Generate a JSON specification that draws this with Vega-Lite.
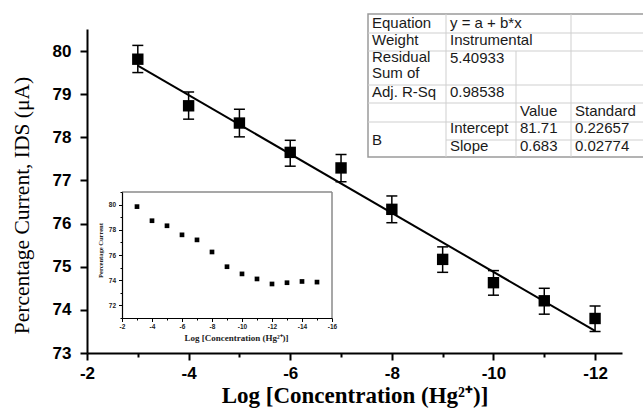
{
  "$schema": "https://vega.github.io/schema/vega-lite/v6.json",
  "width": 535,
  "height": 324,
  "autosize": "none",
  "padding": {"left": 87, "top": 29, "right": 21, "bottom": 59},
  "background": "white",
  "config": {"view": {"stroke": null}, "axis": {"grid": false}},
  "datasets": {
    "main": [
      {"x": -3, "y": 79.81, "lo": 79.50, "hi": 80.13},
      {"x": -4, "y": 78.73, "lo": 78.42, "hi": 79.05},
      {"x": -5, "y": 78.33, "lo": 78.01, "hi": 78.65},
      {"x": -6, "y": 77.65, "lo": 77.33, "hi": 77.93},
      {"x": -7, "y": 77.29, "lo": 76.97, "hi": 77.60},
      {"x": -8, "y": 76.33, "lo": 76.02, "hi": 76.64},
      {"x": -9, "y": 75.17, "lo": 74.87, "hi": 75.46},
      {"x": -10, "y": 74.63, "lo": 74.34, "hi": 74.91},
      {"x": -11, "y": 74.21, "lo": 73.90, "hi": 74.50},
      {"x": -12, "y": 73.80, "lo": 73.50, "hi": 74.09}
    ],
    "fit": [
      {"x": -3, "y": 79.661},
      {"x": -12, "y": 73.514}
    ],
    "inset": [
      {"x": -3, "y": 79.84},
      {"x": -4, "y": 78.72},
      {"x": -5, "y": 78.32},
      {"x": -6, "y": 77.6},
      {"x": -7, "y": 77.2},
      {"x": -8, "y": 76.24},
      {"x": -9, "y": 75.07},
      {"x": -10, "y": 74.5},
      {"x": -11, "y": 74.1},
      {"x": -12, "y": 73.7},
      {"x": -13, "y": 73.8},
      {"x": -14, "y": 73.9},
      {"x": -15, "y": 73.85}
    ],
    "tlines": [
      {"c": 0, "c2": 4, "r": 1, "r2": 1},
      {"c": 0, "c2": 4, "r": 2, "r2": 2},
      {"c": 0, "c2": 4, "r": 3, "r2": 3},
      {"c": 0, "c2": 4, "r": 4, "r2": 4},
      {"c": 0, "c2": 4, "r": 5, "r2": 5},
      {"c": 1, "c2": 4, "r": 6, "r2": 6},
      {"c": 1, "c2": 1, "r": 0, "r2": 7},
      {"c": 2, "c2": 2, "r": 2, "r2": 7},
      {"c": 3, "c2": 3, "r": 0, "r2": 7}
    ],
    "tcells": [
      {"c": 0, "r": 0.45, "t": "Equation"},
      {"c": 1, "r": 0.45, "t": "y = a + b*x"},
      {"c": 0, "r": 1.4, "t": "Weight"},
      {"c": 1, "r": 1.4, "t": "Instrumental"},
      {"c": 0, "r": 2.18, "t": "Residual\nSum of"},
      {"c": 1, "r": 2.2, "t": "5.40933"},
      {"c": 0, "r": 3.4, "t": "Adj. R-Sq"},
      {"c": 1, "r": 3.4, "t": "0.98538"},
      {"c": 2, "r": 4.4, "t": "Value"},
      {"c": 3, "r": 4.4, "t": "Standard"},
      {"c": 1, "r": 5.35, "t": "Intercept"},
      {"c": 2, "r": 5.35, "t": "81.71"},
      {"c": 3, "r": 5.35, "t": "0.22657"},
      {"c": 1, "r": 6.35, "t": "Slope"},
      {"c": 2, "r": 6.35, "t": "0.683"},
      {"c": 3, "r": 6.35, "t": "0.02774"},
      {"c": 0, "r": 6, "t": "B"}
    ],
    "frame": [
      {"x": -2, "x2": -16, "y": 81, "y2": 81},
      {"x": -16, "x2": -16, "y": 71, "y2": 81}
    ]
  },
  "layer": [
    {
      "encoding": {
        "x": {
          "field": "x", "type": "quantitative",
          "scale": {"domain": [-2, -16], "range": [35, 245], "nice": false, "zero": false},
          "axis": {
            "orient": "bottom", "offset": -35, "zindex": 1,
            "values": [-2, -3, -4, -5, -6, -7, -8, -9, -10, -11, -12, -13, -14, -15, -16],
            "labelExpr": "datum.value % 2 === 0 ? '' + datum.value : ''",
            "tickSize": {"condition": {"test": "datum.value % 2 !== 0", "value": 2}, "value": 3.5},
            "tickWidth": 1, "tickColor": "black", "domainColor": "black", "domainWidth": 1.2,
            "labelFont": "Liberation Sans", "labelFontWeight": "bold", "labelFontSize": 6.5, "labelColor": "#222", "labelPadding": 2,
            "labelFlush": false, "labelOverlap": false,
            "title": "Log [Concentration (Hg²⁺)]", "titleFont": "Liberation Serif", "titleFontSize": 9, "titleFontWeight": "bold", "titleColor": "#222",
            "titleX": 149, "titleY": 19, "titleBaseline": "middle", "grid": false
          }
        },
        "y": {
          "field": "y", "type": "quantitative",
          "scale": {"domain": [71, 81], "range": [289, 163], "nice": false, "zero": false},
          "axis": {
            "orient": "left", "offset": -35, "zindex": 1,
            "values": [71, 72, 73, 74, 75, 76, 77, 78, 79, 80, 81],
            "labelExpr": "datum.value % 2 === 0 ? '' + datum.value : ''",
            "tickSize": {"condition": {"test": "datum.value % 2 !== 0", "value": 2}, "value": 3.5},
            "tickWidth": 1, "tickColor": "black", "domainColor": "black", "domainWidth": 1.2,
            "labelFont": "Liberation Sans", "labelFontWeight": "bold", "labelFontSize": 6.5, "labelColor": "#222", "labelPadding": 3,
            "labelFlush": false, "labelOverlap": false,
            "title": "Percentage Current", "titleFont": "Liberation Serif", "titleFontSize": 6.5, "titleFontWeight": "bold", "titleColor": "#222",
            "titleX": -22, "titleY": 221, "titleBaseline": "middle", "titleAngle": 270, "grid": false
          }
        }
      },
      "layer": [
        {
          "data": {"name": "frame"},
          "mark": {"type": "rule", "color": "#8a8a8a", "strokeWidth": 1.5},
          "encoding": {
            "x2": {"field": "x2"},
            "y2": {"field": "y2"}
          }
        },
        {
          "data": {"name": "inset"},
          "mark": {"type": "point", "shape": "square", "filled": true, "size": 22, "color": "black", "opacity": 1}
        }
      ]
    },
    {
      "data": {"name": "main"},
      "encoding": {
        "x": {
          "field": "x", "type": "quantitative",
          "scale": {"domain": [-2, -12.53], "nice": false, "zero": false},
          "axis": {
            "orient": "bottom", "zindex": 1,
            "values": [-2, -3, -4, -5, -6, -7, -8, -9, -10, -11, -12],
            "labelExpr": "datum.value % 2 === 0 ? '' + datum.value : ''",
            "tickSize": {"condition": {"test": "datum.value % 2 !== 0", "value": 4}, "value": 7},
            "tickWidth": 2, "tickColor": "black", "domainColor": "black", "domainWidth": 2,
            "labelFont": "Liberation Sans", "labelFontWeight": "bold", "labelFontSize": 17, "labelColor": "black", "labelPadding": 5,
            "labelFlush": false, "labelOverlap": false,
            "title": "Log [Concentration (Hg²⁺)]", "titleFont": "Liberation Serif", "titleFontSize": 23, "titleFontWeight": "bold", "titleColor": "black",
            "titleY": 49, "titleBaseline": "alphabetic", "grid": false
          }
        }
      },
      "layer": [
        {
          "data": {"name": "fit"},
          "mark": {"type": "line", "color": "black", "strokeWidth": 2},
          "encoding": {
            "y": {
              "field": "y", "type": "quantitative",
              "scale": {"domain": [73, 80.51], "nice": false, "zero": false},
              "axis": {
                "orient": "left", "zindex": 1,
                "values": [73, 73.5, 74, 74.5, 75, 75.5, 76, 76.5, 77, 77.5, 78, 78.5, 79, 79.5, 80],
                "labelExpr": "datum.value % 1 === 0 ? '' + datum.value : ''",
                "tickSize": {"condition": {"test": "datum.value % 1 !== 0", "value": 4}, "value": 7},
                "tickWidth": 2, "tickColor": "black", "domainColor": "black", "domainWidth": 2,
                "labelFont": "Liberation Sans", "labelFontWeight": "bold", "labelFontSize": 17, "labelColor": "black", "labelPadding": 9,
                "labelFlush": false, "labelOverlap": false,
                "title": "Percentage Current, IDS (μA)", "titleFont": "Liberation Serif", "titleFontSize": 21.5, "titleFontWeight": "normal", "titleColor": "black",
                "titleX": -59, "titleY": 176, "titleBaseline": "alphabetic", "titleAngle": 270, "grid": false
              }
            }
          }
        },
        {
          "mark": {"type": "rule", "color": "black", "strokeWidth": 1.5},
          "encoding": {
            "y": {"field": "lo", "type": "quantitative", "scale": {"domain": [73, 80.51], "nice": false, "zero": false}, "title": "Percentage Current, IDS (μA)"},
            "y2": {"field": "hi"}
          }
        },
        {
          "mark": {"type": "tick", "orient": "horizontal", "size": 11, "thickness": 1.5, "color": "black", "opacity": 1},
          "encoding": {
            "y": {"field": "lo", "type": "quantitative", "scale": {"domain": [73, 80.51], "nice": false, "zero": false}, "title": "Percentage Current, IDS (μA)"}
          }
        },
        {
          "mark": {"type": "tick", "orient": "horizontal", "size": 11, "thickness": 1.5, "color": "black", "opacity": 1},
          "encoding": {
            "y": {"field": "hi", "type": "quantitative", "scale": {"domain": [73, 80.51], "nice": false, "zero": false}, "title": "Percentage Current, IDS (μA)"}
          }
        },
        {
          "mark": {"type": "point", "shape": "square", "filled": true, "size": 130, "color": "black", "opacity": 1},
          "encoding": {
            "y": {"field": "y", "type": "quantitative", "scale": {"domain": [73, 80.51], "nice": false, "zero": false}, "title": "Percentage Current, IDS (μA)"}
          }
        }
      ]
    },
    {
      "layer": [
        {
          "data": {"values": [{}]},
          "mark": {"type": "rect", "fill": "white", "stroke": "#9a9a9a", "strokeWidth": 1.5},
          "encoding": {
            "x": {"datum": 0, "type": "quantitative", "scale": {"domain": [0, 1, 2, 3, 4], "range": [281, 359, 429, 484, 563], "nice": false, "zero": false}, "axis": null},
            "x2": {"datum": 4},
            "y": {"datum": 0, "type": "quantitative", "scale": {"domain": [0, 1, 2, 3, 4, 5, 6, 7], "range": [-15, 4, 22, 56, 74, 93, 111, 128], "nice": false, "zero": false}, "axis": null},
            "y2": {"datum": 7}
          }
        },
        {
          "data": {"name": "tlines"},
          "mark": {"type": "rule", "color": "#cfcfcf", "strokeWidth": 1},
          "encoding": {
            "x": {"field": "c", "type": "quantitative", "scale": {"domain": [0, 1, 2, 3, 4], "range": [281, 359, 429, 484, 563], "nice": false, "zero": false}, "axis": null},
            "x2": {"field": "c2"},
            "y": {"field": "r", "type": "quantitative", "scale": {"domain": [0, 1, 2, 3, 4, 5, 6, 7], "range": [-15, 4, 22, 56, 74, 93, 111, 128], "nice": false, "zero": false}, "axis": null},
            "y2": {"field": "r2"}
          }
        },
        {
          "data": {"name": "tcells"},
          "mark": {"type": "text", "align": "left", "baseline": "middle", "dx": 4, "font": "Liberation Sans", "fontSize": 15, "color": "#1a1a1a", "lineBreak": "\n", "lineHeight": 16},
          "encoding": {
            "x": {"field": "c", "type": "quantitative", "scale": {"domain": [0, 1, 2, 3, 4], "range": [281, 359, 429, 484, 563], "nice": false, "zero": false}, "axis": null},
            "y": {"field": "r", "type": "quantitative", "scale": {"domain": [0, 1, 2, 3, 4, 5, 6, 7], "range": [-15, 4, 22, 56, 74, 93, 111, 128], "nice": false, "zero": false}, "axis": null},
            "text": {"field": "t", "type": "nominal"}
          }
        }
      ]
    }
  ],
  "resolve": {
    "scale": {"x": "independent", "y": "independent"},
    "axis": {"x": "independent", "y": "independent"}
  }
}
